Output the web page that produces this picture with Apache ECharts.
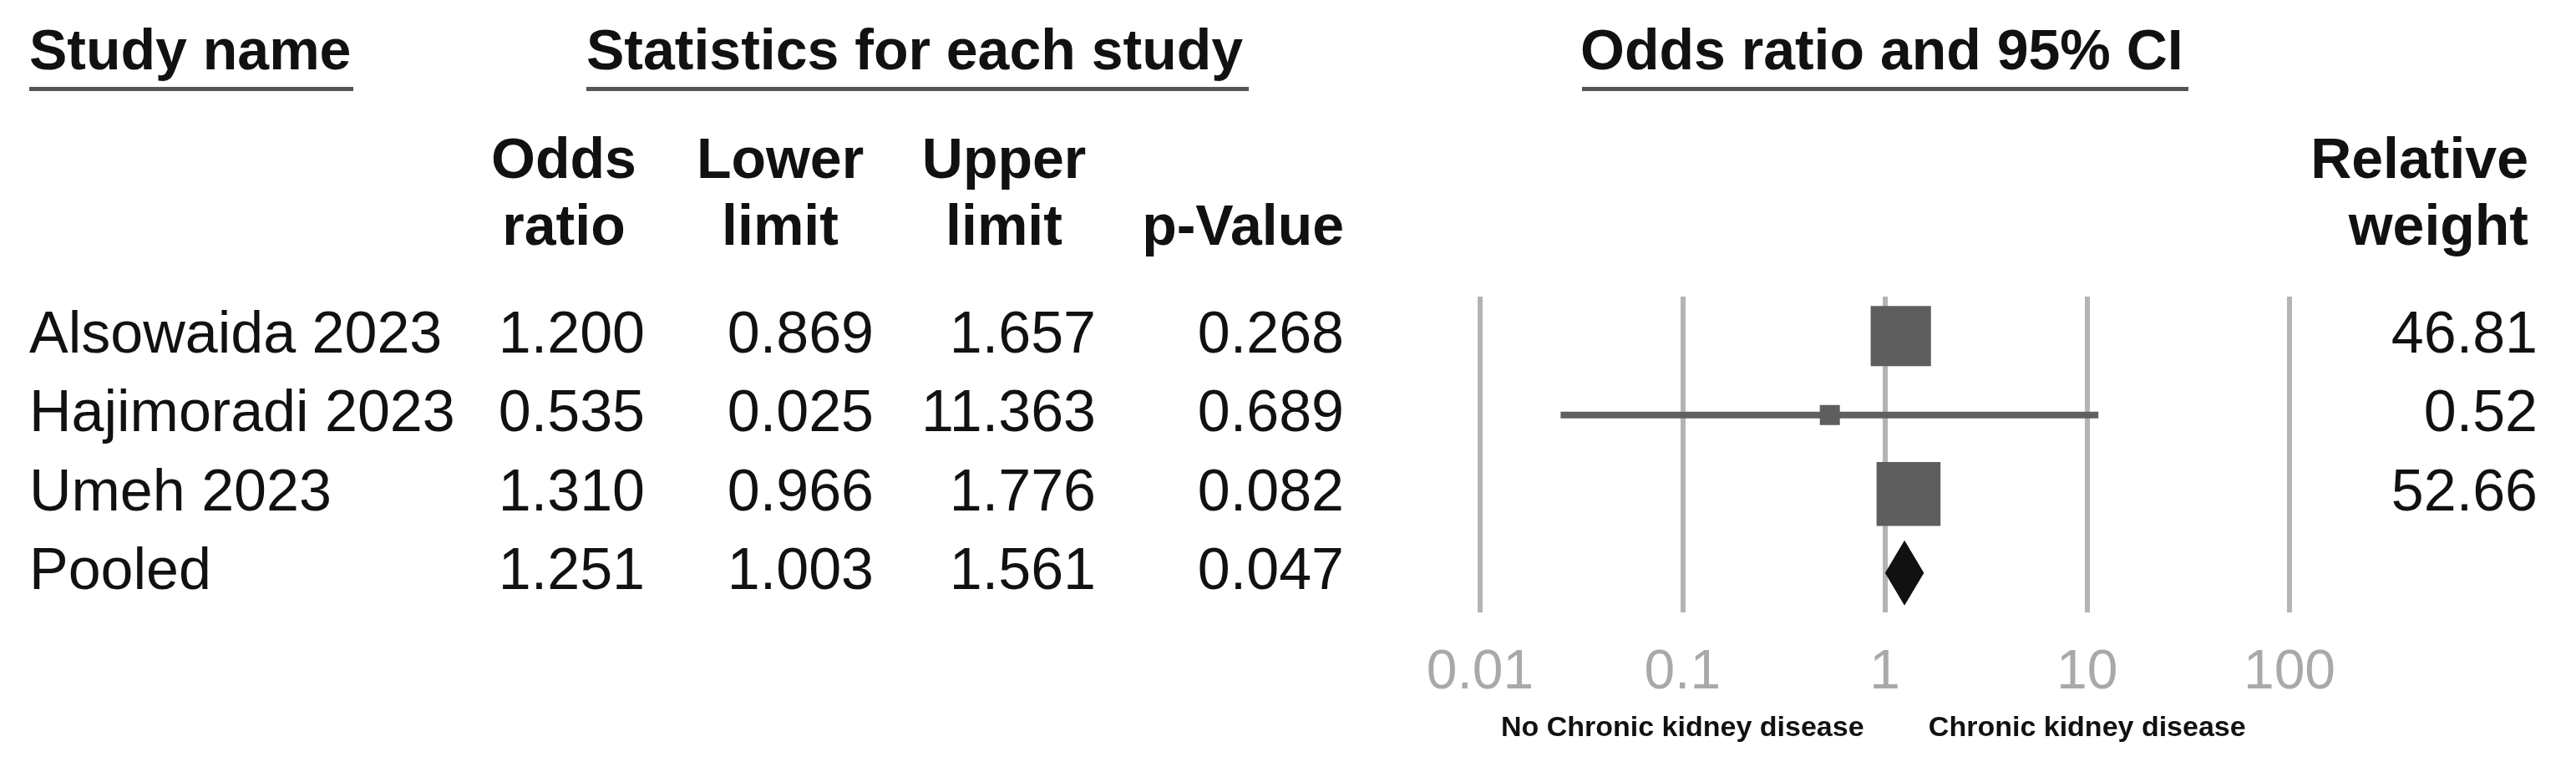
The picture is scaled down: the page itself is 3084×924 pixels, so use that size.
<!DOCTYPE html>
<html>
<head>
<meta charset="utf-8">
<script src="https://cdn.jsdelivr.net/npm/echarts@6/dist/echarts.min.js"></script>
<style>
  html, body { margin: 0; padding: 0; background: #fff; }
  #chart { width: 3084px; height: 924px; }
</style>
</head>
<body>
<div id="chart"></div>
<script>
// forest plot data
const studies = ['Alsowaida 2023', 'Hajimoradi 2023', 'Umeh 2023', 'Pooled']
const oddsRatio = [1.200, 0.535, 1.310, 1.251]
const lowerLimit = [0.869, 0.025, 0.966, 1.003]
const upperLimit = [1.657, 11.363, 1.776, 1.561]
const pValue = [0.268, 0.689, 0.082, 0.047]
const relWeight = [46.81, 0.52, 52.66, null]
const xTicks = [0.01, 0.1, 1, 10, 100]
const sideLabels = ['No Chronic kidney disease', 'Chronic kidney disease']

const FONT = "'Liberation Sans', Arial, sans-serif"
const textFont = '70px ' + FONT
const headFont = 'bold 68px ' + FONT

const nameX = 35
const colRight = [772, 1046, 1312, 1609]
const weightRight = 3038

let chart = echarts.init(document.getElementById('chart'))

const rows = studies.map((s, i) => [i, oddsRatio[i], lowerLimit[i], upperLimit[i], relWeight[i]])

function fmt3 (v) { return v.toFixed(3) }

let option = {
  animation: false,
  backgroundColor: '#fff',
  grid: { left: 1772, right: 343, top: 355, bottom: 191 },
  xAxis: {
    type: 'log',
    logBase: 10,
    min: xTicks[0],
    max: xTicks[xTicks.length - 1],
    axisLine: { show: false },
    axisTick: { show: false },
    splitLine: { show: true, lineStyle: { color: '#b4b4b4', width: 6 } },
    axisLabel: {
      margin: 40,
      color: '#a9a9a9',
      fontSize: 66,
      fontFamily: FONT,
      formatter: v => String(Number(v.toPrecision(6)))
    }
  },
  yAxis: {
    type: 'value',
    min: -0.5,
    max: studies.length - 0.5,
    inverse: true,
    show: false
  },
  series: [
    {
      // CI lines, weight boxes, pooled diamond
      type: 'custom',
      clip: false,
      data: rows,
      encode: { x: [1, 2, 3], y: 0 },
      renderItem (params, api) {
        const i = api.value(0)
        const c = api.coord([api.value(1), i])
        const lo = api.coord([api.value(2), i])
        const hi = api.coord([api.value(3), i])
        const w = relWeight[i]
        if (w == null) {
          const h = 39
          return {
            type: 'polygon',
            shape: { points: [[lo[0], c[1]], [c[0], c[1] - h], [hi[0], c[1]], [c[0], c[1] + h]] },
            style: { fill: '#111' }
          }
        }
        const side = Math.max(24, 10.55 * Math.sqrt(w))
        return {
          type: 'group',
          children: [
            {
              type: 'line',
              shape: { x1: lo[0], y1: c[1], x2: hi[0], y2: c[1] },
              style: { stroke: '#606060', lineWidth: 8 }
            },
            {
              type: 'rect',
              shape: { x: c[0] - side / 2, y: c[1] - side / 2, width: side, height: side },
              style: { fill: '#5e5e5e' }
            }
          ]
        }
      }
    },
    {
      // table text at row positions
      type: 'custom',
      clip: false,
      silent: true,
      data: rows,
      encode: { x: 1, y: 0 },
      renderItem (params, api) {
        const i = api.value(0)
        const y = api.coord([1, i])[1]
        const vals = [fmt3(oddsRatio[i]), fmt3(lowerLimit[i]), fmt3(upperLimit[i]), fmt3(pValue[i])]
        const kids = [{
          type: 'text',
          style: { text: studies[i], x: nameX, y: y, font: textFont, fill: '#111', align: 'left', verticalAlign: 'middle' }
        }]
        vals.forEach((t, k) => {
          kids.push({
            type: 'text',
            style: { text: t, x: colRight[k], y: y, font: textFont, fill: '#111', align: 'right', verticalAlign: 'middle' }
          })
        })
        if (relWeight[i] != null) {
          kids.push({
            type: 'text',
            style: { text: relWeight[i].toFixed(2), x: weightRight, y: y, font: textFont, fill: '#111', align: 'right', verticalAlign: 'middle' }
          })
        }
        return { type: 'group', children: kids }
      }
    }
  ]
}
chart.setOption(option, true)

function txt (text, x, y, align, font) {
  return { type: 'text', x: x, y: y, style: { text: text, font: font || headFont, fill: '#111', align: align, verticalAlign: 'middle' } }
}
function underline (x1, x2, y) {
  return { type: 'rect', shape: { x: x1, y: y, width: x2 - x1, height: 5 }, style: { fill: '#555' } }
}

const sideFont = 'bold 34px ' + FONT
const sx1 = chart.convertToPixel({ xAxisIndex: 0 }, 0.1)
const sx2 = chart.convertToPixel({ xAxisIndex: 0 }, 10)

chart.setOption({
  graphic: [
    txt('Study name', 35, 64, 'left'),
    underline(35, 423, 104),
    txt('Statistics for each study', 702, 64, 'left'),
    underline(702, 1495, 104),
    txt('Odds ratio and 95% CI', 1892, 64, 'left'),
    underline(1894, 2620, 104),
    txt('Odds', 675, 194, 'center'),
    txt('ratio', 675, 274, 'center'),
    txt('Lower', 934, 194, 'center'),
    txt('limit', 934, 274, 'center'),
    txt('Upper', 1202, 194, 'center'),
    txt('limit', 1202, 274, 'center'),
    txt('p-Value', 1609, 274, 'right'),
    txt('Relative', 3027, 194, 'right'),
    txt('weight', 3027, 274, 'right'),
    txt(sideLabels[0], sx1, 872, 'center', sideFont),
    txt(sideLabels[1], sx2, 872, 'center', sideFont)
  ]
})
</script>
</body>
</html>
